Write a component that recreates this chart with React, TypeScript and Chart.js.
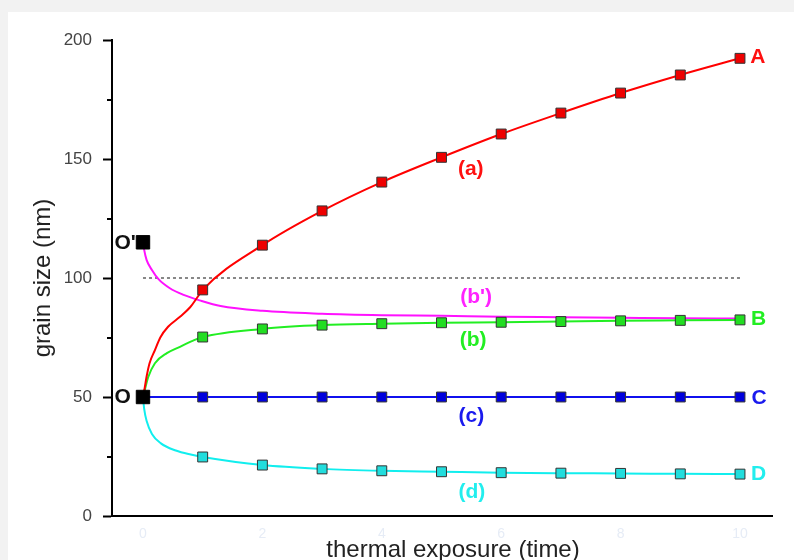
import React, { useEffect, useRef } from "react";
import { Chart, registerables } from "chart.js";

Chart.register(...registerables);

// ---- data ----
const markerTimes = [1, 2, 3, 4, 5, 6, 7, 8, 9, 10];
const sizeA = [95, 113.8, 128.2, 140.3, 150.7, 160.5, 169.3, 177.7, 185.3, 192.3];
const sizeB = [75.2, 78.6, 80.2, 80.8, 81.2, 81.4, 81.7, 82.0, 82.2, 82.4];
const sizeC = [50, 50, 50, 50, 50, 50, 50, 50, 50, 50];
const sizeD = [24.8, 21.4, 19.8, 19.0, 18.6, 18.2, 18.0, 17.9, 17.7, 17.6];

// traced early parts of the curves (between t = 0 and t = 1)
const traceAX = [0, 0.03, 0.06, 0.11, 0.2, 0.29, 0.42, 0.62, 0.79, 0.9];
const traceAY = [50, 54, 58.5, 64.2, 69.7, 75, 79.5, 83.7, 87.7, 91.5];
const traceBX = [0, 0.03, 0.09, 0.2, 0.4, 0.62, 0.84];
const traceBY = [50, 53, 58.5, 64.2, 68.4, 71.1, 73.7];
const traceDX = [0, 0.02, 0.06, 0.15, 0.3, 0.55, 0.8];
const traceDY = [50, 45, 40, 34.5, 30.5, 27.5, 25.8];
const bPrimeX = [0, 0.02, 0.06, 0.15, 0.26, 0.45, 0.68, 0.95, 1.3, 2, 3, 4, 5, 6, 7, 8, 9, 10];
const bPrimeY = [115, 111.8, 107.6, 103.4, 99.5, 95.7, 92.9, 90.6, 88.2, 86.2, 85.0, 84.4, 84.1, 83.7, 83.5, 83.3, 83.1, 83.0];

const originX = [0, 0];
const originY = [50, 115];
const dashedX = [0, 10];
const dashedY = [100, 100];

const xTickValues = [0, 2, 4, 6, 8, 10];
const yMinorTicks = [25, 75, 125, 175];
const xTitle = "thermal exposure (time)";
const yTitle = "grain size (nm)";

const labelTexts = ["A", "B", "C", "D", "(a)", "(b')", "(b)", "(c)", "(d)", "O'", "O"];
const labelXs = [10.3, 10.31, 10.32, 10.31, 5.49, 5.58, 5.53, 5.5, 5.51, -0.3, -0.34];
const labelYs = [192.6, 82.6, 49.5, 17.5, 145.8, 92.1, 73.9, 41.9, 10.1, 114.8, 50];
const labelColors = ["#ff1010", "#22ee22", "#1a1aee", "#22eeee", "#ff1010", "#ff22ff", "#22ee22", "#1a1aee", "#22eeee", "#111", "#111"];

const FONT = "'Liberation Sans', Arial, Helvetica, sans-serif";

const pts = (xs: number[], ys: number[]) => xs.map((x, i) => ({ x, y: ys[i] }));

export default function App() {
  const ref = useRef<HTMLCanvasElement | null>(null);

  useEffect(() => {
    if (!ref.current) return;
    Chart.defaults.font.family = FONT;

    const lineDs = (data: any[], color: string) => ({
      data,
      borderColor: color,
      borderWidth: 2,
      pointRadius: 0,
      showLine: true,
      fill: false,
      cubicInterpolationMode: "monotone",
      order: 10,
    });
    const markerDs = (ys: number[], fillColor: string) => ({
      data: pts(markerTimes, ys),
      showLine: false,
      pointStyle: "rect",
      pointRadius: 7,
      pointBackgroundColor: fillColor,
      pointBorderColor: "#333",
      pointBorderWidth: 1,
      order: 2,
    });

    const extrasPlugin = {
      id: "extras",
      afterDraw(chart: any) {
        const ctx = chart.ctx;
        const xs = chart.scales.x;
        const ys = chart.scales.y;
        const area = chart.chartArea;
        ctx.save();
        // minor y ticks
        ctx.strokeStyle = "#000";
        ctx.lineWidth = 2;
        yMinorTicks.forEach((v) => {
          const py = Math.round(ys.getPixelForValue(v));
          ctx.beginPath();
          ctx.moveTo(area.left - 5, py);
          ctx.lineTo(area.left, py);
          ctx.stroke();
        });
        // x axis title (slightly right of the axis centre, as in the source)
        ctx.font = `24px ${FONT}`;
        ctx.fillStyle = "#222";
        ctx.textAlign = "center";
        ctx.textBaseline = "middle";
        ctx.fillText(xTitle, (area.left + area.right) / 2 + 11, xs.bottom - 10);
        // text labels
        labelTexts.forEach((t, i) => {
          ctx.font = `bold 21px ${FONT}`;
          ctx.fillStyle = labelColors[i];
          ctx.fillText(t, xs.getPixelForValue(labelXs[i]), ys.getPixelForValue(labelYs[i]));
        });
        ctx.restore();
      },
    };

    const chart = new Chart(ref.current, {
      type: "scatter",
      data: {
        datasets: [
          {
            data: pts(originX, originY),
            showLine: false,
            pointStyle: "rect",
            pointRadius: 9.5,
            pointBackgroundColor: "#000",
            pointBorderColor: "#000",
            pointBorderWidth: 1,
            order: 0,
          } as any,
          markerDs(sizeA, "#ee0000"),
          markerDs(sizeB, "#22dd22"),
          markerDs(sizeC, "#0000dd"),
          markerDs(sizeD, "#22dddd"),
          lineDs(pts([...traceAX, ...markerTimes], [...traceAY, ...sizeA]), "#ff0000"),
          lineDs(pts([...traceBX, ...markerTimes], [...traceBY, ...sizeB]), "#22ee22"),
          lineDs(pts(bPrimeX, bPrimeY), "#ff11ff"),
          lineDs(pts([0, ...markerTimes], [50, ...sizeC]), "#1010ee"),
          lineDs(pts([...traceDX, ...markerTimes], [...traceDY, ...sizeD]), "#11eeee"),
          {
            data: pts(dashedX, dashedY),
            showLine: true,
            borderColor: "#111",
            borderWidth: 1,
            borderDash: [3, 3],
            pointRadius: 0,
            order: 20,
          } as any,
        ] as any,
      },
      options: {
        responsive: false,
        devicePixelRatio: 1,
        animation: false,
        layout: { padding: { left: 0, top: 40, right: 22, bottom: 0 } },
        plugins: { legend: { display: false }, tooltip: { enabled: false } },
        scales: {
          x: {
            type: "linear",
            min: -0.519,
            max: 10.536,
            afterBuildTicks: (s: any) => {
              s.ticks = xTickValues.map((v) => ({ value: v }));
            },
            afterFit: (s: any) => {
              s.height = 44;
            },
            ticks: {
              color: "#e6ecf6",
              font: { size: 14 },
              padding: 10,
              autoSkip: false,
              maxRotation: 0,
              callback: (v: any) => String(v),
            },
            grid: { drawOnChartArea: false, drawTicks: false },
            border: { display: true, color: "#000", width: 2 },
            title: { display: false, text: xTitle },
          },
          y: {
            type: "linear",
            min: 0,
            max: 200,
            afterFit: (s: any) => {
              s.width = 112;
            },
            ticks: {
              stepSize: 50,
              color: "#444",
              font: { size: 17 },
              padding: 11,
            },
            grid: {
              drawOnChartArea: false,
              drawTicks: true,
              tickLength: 9,
              tickColor: "#000",
              tickWidth: 2,
            },
            border: { display: true, color: "#000", width: 2 },
            title: {
              display: true,
              text: yTitle,
              color: "#222",
              font: { size: 24, lineHeight: 1 },
              padding: { top: 31, bottom: 0 },
            },
          },
        },
      } as any,
      plugins: [extrasPlugin],
    });
    return () => chart.destroy();
  }, []);

  return (
    <div style={{ position: "fixed", left: 0, top: 0, width: 794, height: 560, background: "#f2f2f2", overflow: "hidden" }}>
      <div style={{ position: "absolute", left: 8, top: 12, right: 0, bottom: 0, background: "#fff" }} />
      <canvas ref={ref} width={794} height={560} style={{ position: "absolute", left: 0, top: 0, width: 794, height: 560 }} />
    </div>
  );
}
